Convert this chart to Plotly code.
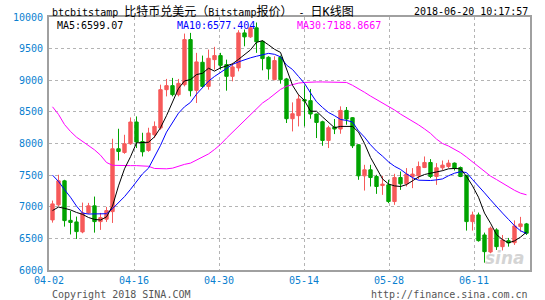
import plotly.graph_objects as go
import pandas as pd

dates = pd.date_range("2018-04-02", "2018-06-20").strftime("%Y-%m-%d").tolist()

opens = [6792, 7030, 7410, 6785, 6760, 6602, 6903, 7014, 6765, 6803,
         6923, 7917, 7858, 7996, 8340, 8032, 7890, 8138, 8245, 8851,
         8915, 8772, 8930, 9643, 8840, 9284, 8903, 9326, 9390, 9247,
         9062, 9195, 9749, 9686, 9829, 9616, 9363, 9010, 9363, 9021,
         8392, 8440, 8693, 8677, 8466, 8344, 8048, 8260, 8229, 8523,
         8408, 7980, 7489, 7584, 7478, 7335, 7346, 7082, 7462, 7362,
         7478, 7489, 7620, 7700, 7478, 7616, 7636, 7690, 7620, 7494,
         6765, 6871, 6554, 6285, 6634, 6369, 6464, 6432, 6686, 6729]
highs = [7098, 7505, 7426, 6935, 6844, 7066, 7061, 7161, 6903, 6998,
         8075, 8233, 8138, 8412, 8428, 8170, 8249, 8349, 8930, 9021,
         9037, 9021, 9738, 9749, 9433, 9390, 9485, 9528, 9433, 9326,
         9274, 9791, 9802, 9854, 9913, 9632, 9379, 9379, 9390, 9037,
         8650, 8772, 8915, 8862, 8471, 8360, 8281, 8387, 8587, 8577,
         8419, 7990, 7663, 7663, 7505, 7489, 7426, 7521, 7557, 7611,
         7611, 7715, 7795, 7753, 7690, 7731, 7742, 7700, 7636, 7505,
         6923, 6908, 6591, 6686, 6660, 6554, 6507, 6784, 6840, 6744]
lows = [6749, 7006, 6686, 6562, 6491, 6581, 6887, 6591, 6634, 6760,
        6744, 7731, 7837, 7980, 7928, 7795, 7869, 8086, 8218, 8745,
        8745, 8745, 8903, 8745, 8640, 8878, 8851, 9168, 9168, 8835,
        8983, 9141, 9537, 9670, 9433, 9157, 9010, 8999, 8946, 8324,
        8191, 8270, 8270, 8392, 8086, 7964, 7928, 8149, 8154, 8297,
        7928, 7426, 7256, 7320, 7204, 7188, 7057, 7030, 7267, 7320,
        7294, 7437, 7611, 7453, 7346, 7573, 7611, 7573, 7468, 6623,
        6623, 6448, 6116, 6265, 6317, 6309, 6369, 6396, 6607, 6554]
closes = [7045, 7410, 6781, 6752, 6607, 6903, 7014, 6765, 6828, 6939,
          7917, 7874, 7996, 8340, 8023, 7869, 8165, 8270, 8851, 8915,
          8772, 8951, 9643, 8835, 9290, 8903, 9347, 9390, 9236, 9062,
          9211, 9749, 9686, 9829, 9607, 9342, 9179, 9311, 9010, 8392,
          8471, 8704, 8672, 8466, 8333, 8048, 8249, 8229, 8523, 8387,
          7964, 7489, 7584, 7462, 7320, 7357, 7082, 7462, 7362, 7516,
          7516, 7636, 7700, 7478, 7616, 7658, 7690, 7611, 7478, 6765,
          6871, 6464, 6290, 6660, 6369, 6475, 6428, 6697, 6729, 6581]

ma5 = [6940, 6995, 6975, 6950, 6910, 6880, 6830, 6800, 6790, 6840,
       7010, 7330, 7600, 7790, 8010, 8010, 8020, 8105, 8250, 8440,
       8660, 8870, 8990, 9010, 9090, 9110, 9190, 9145, 9195, 9230,
       9260, 9330, 9400, 9480, 9600, 9625, 9560, 9490, 9440, 9180,
       8920, 8770, 8680, 8510, 8510, 8420, 8330, 8250, 8270, 8270,
       8270, 8180, 8000, 7780, 7600, 7440, 7360, 7330, 7320, 7350,
       7410, 7470, 7510, 7535, 7550, 7570, 7600, 7605, 7600, 7480,
       7330, 7150, 6900, 6740, 6560, 6480, 6430, 6460, 6520, 6599]
ma10 = [7500, 7400, 7270, 7150, 7010, 6900, 6885, 6885, 6885, 6890,
        6970, 7060, 7160, 7275, 7400, 7520, 7610, 7780, 7970, 8180,
        8340, 8480, 8580, 8650, 8780, 8890, 8985, 9060, 9120, 9180,
        9250, 9290, 9325, 9355, 9380, 9400, 9425, 9410, 9370, 9240,
        9170, 9060, 8950, 8800, 8660, 8570, 8490, 8440, 8380, 8365,
        8340, 8200, 8100, 7980, 7880, 7800, 7710, 7640, 7590, 7520,
        7460, 7420, 7415, 7415, 7425, 7440, 7490, 7530, 7555, 7540,
        7430, 7330, 7220, 7110, 7000, 6900, 6800, 6700, 6620, 6577]
ma30 = [8580, 8460, 8300, 8190, 8100, 8030, 7960, 7900, 7815, 7700,
        7655, 7650, 7650, 7650, 7650, 7650, 7640, 7605, 7600, 7600,
        7610, 7645, 7670, 7690, 7740, 7780, 7835, 7905, 7985, 8085,
        8180, 8275, 8370, 8460, 8560, 8640, 8705, 8780, 8855, 8905,
        8935, 8955, 8965, 8973, 8973, 8973, 8973, 8973, 8970, 8965,
        8920, 8870, 8810, 8750, 8695, 8645, 8590, 8530, 8465, 8410,
        8350, 8295, 8230, 8160, 8070, 8000, 7960, 7910, 7855, 7785,
        7710, 7630, 7560, 7485, 7430, 7375, 7310, 7260, 7215, 7189]

tick_labels = ["04-02", "04-16", "04-30", "05-14", "05-28", "06-11"]
y_ticks = [6000, 6500, 7000, 7500, 8000, 8500, 9000, 9500, 10000]
y_tick_labels = ["6000", "6500", "7000", "7500", "8000", "8500", "9000", "9500", "10000"]
title_text = ('btcbitstamp <span style="font-size:12px">比特币兑美元（</span>Bitstamp'
              '<span style="font-size:12px">报价）</span> - <span style="font-size:12px">日K线图</span>')
stamp_text = "2018-06-20 10:17:57"
legend_texts = ["MA5:6599.07", "MA10:6577.404", "MA30:7188.8667"]
copyright_text = "Copyright 2018 SINA.COM"
url_text = "http://finance.sina.com.cn"

idx = list(range(len(dates)))
MONO = "DejaVu Sans Mono, Noto Sans CJK SC, monospace"
TICK_BLUE = "#0a7fd0"

fig = go.Figure()
fig.add_trace(go.Candlestick(
    x=idx, open=opens, high=highs, low=lows, close=closes,
    text=dates, hoverinfo="text+y",
    increasing=dict(line=dict(color="#f65a5a", width=1), fillcolor="#f65a5a"),
    decreasing=dict(line=dict(color="#00a300", width=1), fillcolor="#00a300"),
    whiskerwidth=0, showlegend=False,
))
for vals, col in [(ma30, "#ff00ff"), (ma10, "#0000ff"), (ma5, "#000000")]:
    fig.add_trace(go.Scatter(x=idx, y=vals, mode="lines",
                             line=dict(color=col, width=1), showlegend=False,
                             hoverinfo="skip"))

# grid positions follow the reference spacing (85 px per label, 6 px per day)
step = 85 / 6
x0 = -0.5833
tickvals = [x0 + 0.003 + k * step for k in range(len(tick_labels))]

fig.update_layout(
    width=545, height=300,
    margin=dict(l=49, r=15, t=17, b=30),
    paper_bgcolor="white", plot_bgcolor="white",
    boxgap=0.2,
    xaxis=dict(range=[x0, 79.5833], tickvals=tickvals, ticktext=tick_labels,
               showgrid=True, gridcolor="#b4b4b4", griddash="dot", gridwidth=1,
               showline=True, mirror=True, linecolor="#a0a0a0", linewidth=2,
               ticks="", zeroline=False, rangeslider=dict(visible=False),
               tickfont=dict(family=MONO, size=10, color=TICK_BLUE),
               fixedrange=True),
    yaxis=dict(range=[6000, 10000], tickvals=y_ticks, ticktext=y_tick_labels,
               showgrid=True, gridcolor="#b4b4b4", griddash="dot", gridwidth=1,
               showline=True, mirror=True, linecolor="#a0a0a0", linewidth=2,
               ticks="", zeroline=False, ticklabelstandoff=2,
               tickfont=dict(family=MONO, size=10, color=TICK_BLUE),
               fixedrange=True),
    font=dict(family=MONO, size=10),
)

def px_x(p):
    return (p - 49) / 481.0

def px_y(p):
    return (270 - p) / 253.0

ann = []
ann.append(dict(text=title_text, x=px_x(49.5), y=px_y(11.5), xanchor="left", yanchor="middle",
                font=dict(family=MONO, size=10, color="#000000")))
ann.append(dict(text=stamp_text, x=px_x(529.5), y=px_y(11.5), xanchor="right", yanchor="middle",
                font=dict(family=MONO, size=10, color="#000000")))
for t, xp, col in zip(legend_texts, [54.6, 174.5, 294.7], ["#000000", "#0000ff", "#ff00ff"]):
    ann.append(dict(text=t, x=px_x(xp), y=px_y(25), xanchor="left", yanchor="middle",
                    font=dict(family=MONO, size=10, color=col)))
ann.append(dict(text=copyright_text, x=px_x(49.5), y=px_y(294), xanchor="left", yanchor="middle",
                font=dict(family=MONO, size=10, color="#555555")))
ann.append(dict(text=url_text, x=px_x(529.5), y=px_y(294), xanchor="right", yanchor="middle",
                font=dict(family=MONO, size=10, color="#555555")))
ann.append(dict(text="<b><i>sina</i></b>", x=px_x(527), y=px_y(258), xanchor="right", yanchor="middle",
                font=dict(family="DejaVu Sans", size=17, color="rgba(170,170,170,0.5)")))
for a in ann:
    a.update(xref="paper", yref="paper", showarrow=False)
fig.update_layout(annotations=ann)

fig.write_html("out.html")
